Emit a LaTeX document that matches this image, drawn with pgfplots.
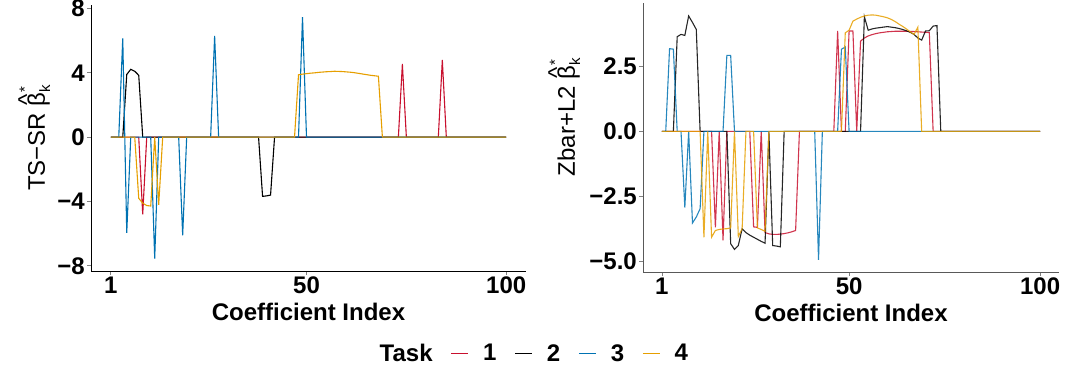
\documentclass[border=0pt]{standalone}
\usepackage{fontspec}
\setmainfont{Liberation Sans}
\usepackage{pgfplots}
\pgfplotsset{compat=1.18}

\definecolor{task1}{RGB}{200,16,46}
\definecolor{task2}{RGB}{0,0,0}
\definecolor{task3}{RGB}{0,114,178}
\definecolor{task4}{RGB}{230,159,0}

\newcommand{\bigfont}{\fontsize{24}{26}\selectfont}
\newcommand{\supfont}{\fontsize{15}{15}\selectfont}
% beta with a hat, a star above and a subscript k, all in the text font
\newcommand{\betahat}{\ooalign{β\cr\hidewidth\raisebox{0.42em}{\^{}}\hidewidth\cr}%
  \rlap{\raisebox{0.62em}{\supfont *}}\raisebox{-0.22em}{\supfont k}}

\pgfplotsset{
  coefpanel/.style={
    scale only axis,
    axis x line*=bottom,
    axis y line*=left,
    xmin=-3.95, xmax=104.95,
    xtick={1,50,100},
    xticklabels={1,50,100},
    tick align=outside,
    major tick length=4pt,
    tick style={line width=0.8pt},
    axis line style={line width=0.8pt},
    ticklabel style={font=\bfseries\bigfont, inner sep=2pt},
    xlabel={Coefficient Index},
    xlabel style={font=\bfseries\bigfont, inner sep=2pt, yshift=-5pt},
    ylabel style={font=\bigfont, anchor=center},
    every axis plot/.append style={line width=1.1pt, mark=none},
  }
}

\begin{document}
\begin{tikzpicture}
\path[use as bounding box] (0pt,0pt) rectangle (1065pt,372pt);

% Left panel: TS-SR estimates (data series kept out of the legend)
\begin{axis}[coefpanel,
  at={(91pt,101pt)}, anchor=south west,
  width=435pt, height=266pt,
  ymin=-8.32, ymax=8.22,
  ytick={-8,-4,0,4,8},
  yticklabels={−8,−4,0,4,8},
  ylabel={TS−SR \betahat},
  ylabel style={at={(axis description cs:-0.129,0.5)}},
  legend style={at={(axis description cs:1.018,-0.31)}, anchor=center,
    draw=none, fill=none, legend columns=5,
    font=\bfseries\bigfont,
    /tikz/every even column/.append style={column sep=16pt}},
]
\addplot[task1, forget plot] coordinates {
  (1,0) (8,0) (9,-4.8) (10,0) (73,0) (74,4.55) (75,0) (83,0) (84,4.8) (85,0) (100,0)};
\addplot[task2, forget plot] coordinates {
  (1,0) (4,0) (5,3.9) (6,4.22) (7,4.1) (8,3.85) (9,0)
  (38,0) (39,-3.68) (40,-3.65) (41,-3.6) (42,0) (100,0)};
\addplot[task3, forget plot] coordinates {
  (1,0) (3,0) (4,6.15) (5,-5.95) (6,0) (11,0) (12,-7.55) (13,0)
  (18,0) (19,-6.1) (20,0) (26,0) (27,6.3) (28,0) (48,0) (49,7.47) (50,0) (100,0)};
\addplot[task4, forget plot] coordinates {
  (1,0) (7,0) (8,-3.8) (9,-4.1) (10,-4.25) (11,-4.28) (12,0) (13,-4.2) (14,0)
  (47,0) (48,3.88) (49,3.92) (50,3.95) (51,3.98) (52,4.0) (53,4.03) (54,4.05)
  (55,4.07) (56,4.08) (57,4.1) (58,4.09) (59,4.08) (60,4.06) (61,4.04) (62,4.01)
  (63,3.97) (64,3.93) (65,3.89) (66,3.85) (67,3.82) (68,3.79) (69,0) (100,0)};

% legend: title followed by one key line per task
\addlegendimage{empty legend}
\addlegendentry{Task}
\addlegendimage{task1, line width=1.4pt}
\addlegendentry{\hspace{12pt}1}
\addlegendimage{task2, line width=1.4pt}
\addlegendentry{\hspace{12pt}2}
\addlegendimage{task3, line width=1.4pt}
\addlegendentry{\hspace{12pt}3}
\addlegendimage{task4, line width=1.4pt}
\addlegendentry{\hspace{12pt}4}
\end{axis}

% Right panel: Zbar+L2 estimates
\begin{axis}[coefpanel,
  at={(643pt,100pt)}, anchor=south west,
  width=416pt, height=269pt,
  ymin=-5.42, ymax=4.95,
  ytick={-5,-2.5,0,2.5},
  yticklabels={−5.0,−2.5,0.0,2.5},
  axis line style={line width=0.8pt, black!65},
  ylabel={Zbar+L2 \betahat},
  ylabel style={at={(axis description cs:-0.1875,0.576)}},
  every axis plot/.append style={opacity=0.85},
]
\addplot[task1] coordinates {
  (1,0) (14,0) (15,-3.7) (16,0) (17,-4.2) (18,0) (24,0) (25,-3.68) (26,-3.7) (27,0)
  (28,-3.9) (29,-3.95) (30,-3.97) (31,-3.97) (32,-3.96) (33,-3.94) (34,-3.91) (35,-3.87)
  (36,-3.82) (37,0) (46,0) (47,3.87) (48,0) (49,0) (50,3.87) (51,3.87) (52,0)
  (53,3.48) (54,3.6) (55,3.68) (56,3.73) (57,3.77) (58,3.8) (59,3.82) (60,3.84)
  (61,3.85) (62,3.86) (63,3.86) (64,3.86) (65,3.86) (66,3.85) (67,3.85) (68,3.84)
  (69,3.83) (70,3.82) (71,3.81) (72,0) (100,0)};
\addplot[task2] coordinates {
  (1,0) (4,0) (5,3.65) (6,3.74) (7,3.7) (8,4.45) (9,4.2) (10,3.93) (11,0)
  (18,0) (19,-4.33) (20,-4.55) (21,-4.4) (22,-3.75) (23,-3.9) (24,-4.0) (25,-4.08)
  (26,-4.16) (27,-4.24) (28,-4.31) (29,0) (30,-4.4) (31,-4.42) (32,-4.45) (33,0)
  (53,0) (54,4.42) (55,3.9) (56,3.95) (57,3.98) (58,4.0) (59,4.02) (60,4.04)
  (61,4.02) (62,4.0) (63,3.97) (64,3.93) (65,3.88) (66,3.82) (67,3.74) (68,3.6)
  (69,3.52) (70,3.87) (71,3.88) (72,4.06) (73,4.08) (74,0) (100,0)};
\addplot[task3] coordinates {
  (1,0) (2,0) (3,3.19) (4,3.17) (5,0) (6,0) (7,-2.94) (8,0) (9,-3.53) (10,-3.3)
  (11,-2.98) (12,0) (17,0) (18,2.93) (19,2.93) (20,0) (41,0) (42,-4.95) (43,0)
  (47,0) (48,3.17) (49,3.25) (50,0) (100,0)};
\addplot[task4] coordinates {
  (1,0) (11,0) (12,-4.08) (13,0) (14,-4.08) (15,-3.82) (16,-3.78) (17,-3.76)
  (18,-3.75) (19,-3.72) (20,0) (21,-4.05) (22,-3.75) (23,0) (25,0) (26,-3.72)
  (27,-3.78) (28,-3.85) (29,0) (48,0) (49,3.8) (50,3.9) (51,4.25) (52,4.33)
  (53,4.4) (54,4.45) (55,4.48) (56,4.49) (57,4.48) (58,4.45) (59,4.42) (60,4.38)
  (61,4.32) (62,4.24) (63,4.14) (64,4.05) (65,3.95) (66,3.84) (67,3.74) (68,4.02)
  (69,0) (100,0)};
\end{axis}
\end{tikzpicture}
\end{document}
